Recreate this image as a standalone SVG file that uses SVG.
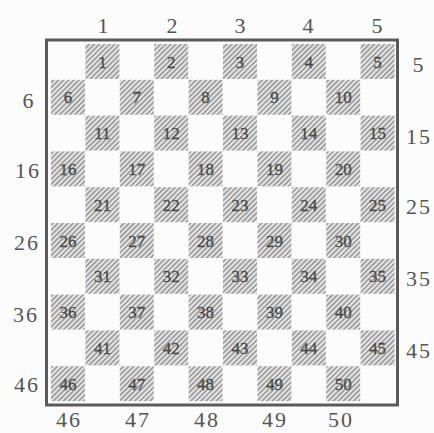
<svg xmlns="http://www.w3.org/2000/svg" width="434" height="433" viewBox="0 0 434 433">
<defs>
<pattern id="hatch" patternUnits="userSpaceOnUse" width="3.6" height="3.6" patternTransform="rotate(45)">
<rect width="3.6" height="3.6" fill="#e6e6e6"/>
<line x1="0.8" y1="0" x2="0.8" y2="3.6" stroke="#8c8c8c" stroke-width="1.4"/>
</pattern>
</defs>
<style>
.d{fill:url(#hatch);}
.n{font-family:"Liberation Serif",serif;font-size:17px;fill:#4a4a4a;stroke:#4a4a4a;stroke-width:0.3;text-anchor:middle;}
.l{font-family:"Liberation Serif",serif;font-size:22px;fill:#555;text-anchor:middle;letter-spacing:2px;}
.frame{fill:none;stroke:#5a5a5a;stroke-width:3;}
</style>
<rect width="434" height="433" fill="#fcfcfc"/>
<rect class="frame" x="46.5" y="40" width="351" height="365"/>
<g id="squares">
<g id="sq1"><rect class="d" x="85.4" y="44" width="34" height="35"/><text class="n" x="102.4" y="67.5">1</text></g>
<g id="sq2"><rect class="d" x="154.2" y="44" width="34" height="35"/><text class="n" x="171.2" y="67.5">2</text></g>
<g id="sq3"><rect class="d" x="223" y="44" width="34" height="35"/><text class="n" x="240" y="67.5">3</text></g>
<g id="sq4"><rect class="d" x="291.8" y="44" width="34" height="35"/><text class="n" x="308.8" y="67.5">4</text></g>
<g id="sq5"><rect class="d" x="360.6" y="44" width="34" height="35"/><text class="n" x="377.6" y="67.5">5</text></g>
<g id="sq6"><rect class="d" x="51" y="79.8" width="34" height="35"/><text class="n" x="68" y="103.3">6</text></g>
<g id="sq7"><rect class="d" x="119.8" y="79.8" width="34" height="35"/><text class="n" x="136.8" y="103.3">7</text></g>
<g id="sq8"><rect class="d" x="188.6" y="79.8" width="34" height="35"/><text class="n" x="205.6" y="103.3">8</text></g>
<g id="sq9"><rect class="d" x="257.4" y="79.8" width="34" height="35"/><text class="n" x="274.4" y="103.3">9</text></g>
<g id="sq10"><rect class="d" x="326.2" y="79.8" width="34" height="35"/><text class="n" x="343.2" y="103.3">10</text></g>
<g id="sq11"><rect class="d" x="85.4" y="115.6" width="34" height="35"/><text class="n" x="102.4" y="139.1">11</text></g>
<g id="sq12"><rect class="d" x="154.2" y="115.6" width="34" height="35"/><text class="n" x="171.2" y="139.1">12</text></g>
<g id="sq13"><rect class="d" x="223" y="115.6" width="34" height="35"/><text class="n" x="240" y="139.1">13</text></g>
<g id="sq14"><rect class="d" x="291.8" y="115.6" width="34" height="35"/><text class="n" x="308.8" y="139.1">14</text></g>
<g id="sq15"><rect class="d" x="360.6" y="115.6" width="34" height="35"/><text class="n" x="377.6" y="139.1">15</text></g>
<g id="sq16"><rect class="d" x="51" y="151.4" width="34" height="35"/><text class="n" x="68" y="174.9">16</text></g>
<g id="sq17"><rect class="d" x="119.8" y="151.4" width="34" height="35"/><text class="n" x="136.8" y="174.9">17</text></g>
<g id="sq18"><rect class="d" x="188.6" y="151.4" width="34" height="35"/><text class="n" x="205.6" y="174.9">18</text></g>
<g id="sq19"><rect class="d" x="257.4" y="151.4" width="34" height="35"/><text class="n" x="274.4" y="174.9">19</text></g>
<g id="sq20"><rect class="d" x="326.2" y="151.4" width="34" height="35"/><text class="n" x="343.2" y="174.9">20</text></g>
<g id="sq21"><rect class="d" x="85.4" y="187.2" width="34" height="35"/><text class="n" x="102.4" y="210.7">21</text></g>
<g id="sq22"><rect class="d" x="154.2" y="187.2" width="34" height="35"/><text class="n" x="171.2" y="210.7">22</text></g>
<g id="sq23"><rect class="d" x="223" y="187.2" width="34" height="35"/><text class="n" x="240" y="210.7">23</text></g>
<g id="sq24"><rect class="d" x="291.8" y="187.2" width="34" height="35"/><text class="n" x="308.8" y="210.7">24</text></g>
<g id="sq25"><rect class="d" x="360.6" y="187.2" width="34" height="35"/><text class="n" x="377.6" y="210.7">25</text></g>
<g id="sq26"><rect class="d" x="51" y="223" width="34" height="35"/><text class="n" x="68" y="246.5">26</text></g>
<g id="sq27"><rect class="d" x="119.8" y="223" width="34" height="35"/><text class="n" x="136.8" y="246.5">27</text></g>
<g id="sq28"><rect class="d" x="188.6" y="223" width="34" height="35"/><text class="n" x="205.6" y="246.5">28</text></g>
<g id="sq29"><rect class="d" x="257.4" y="223" width="34" height="35"/><text class="n" x="274.4" y="246.5">29</text></g>
<g id="sq30"><rect class="d" x="326.2" y="223" width="34" height="35"/><text class="n" x="343.2" y="246.5">30</text></g>
<g id="sq31"><rect class="d" x="85.4" y="258.8" width="34" height="35"/><text class="n" x="102.4" y="282.3">31</text></g>
<g id="sq32"><rect class="d" x="154.2" y="258.8" width="34" height="35"/><text class="n" x="171.2" y="282.3">32</text></g>
<g id="sq33"><rect class="d" x="223" y="258.8" width="34" height="35"/><text class="n" x="240" y="282.3">33</text></g>
<g id="sq34"><rect class="d" x="291.8" y="258.8" width="34" height="35"/><text class="n" x="308.8" y="282.3">34</text></g>
<g id="sq35"><rect class="d" x="360.6" y="258.8" width="34" height="35"/><text class="n" x="377.6" y="282.3">35</text></g>
<g id="sq36"><rect class="d" x="51" y="294.6" width="34" height="35"/><text class="n" x="68" y="318.1">36</text></g>
<g id="sq37"><rect class="d" x="119.8" y="294.6" width="34" height="35"/><text class="n" x="136.8" y="318.1">37</text></g>
<g id="sq38"><rect class="d" x="188.6" y="294.6" width="34" height="35"/><text class="n" x="205.6" y="318.1">38</text></g>
<g id="sq39"><rect class="d" x="257.4" y="294.6" width="34" height="35"/><text class="n" x="274.4" y="318.1">39</text></g>
<g id="sq40"><rect class="d" x="326.2" y="294.6" width="34" height="35"/><text class="n" x="343.2" y="318.1">40</text></g>
<g id="sq41"><rect class="d" x="85.4" y="330.4" width="34" height="35"/><text class="n" x="102.4" y="353.9">41</text></g>
<g id="sq42"><rect class="d" x="154.2" y="330.4" width="34" height="35"/><text class="n" x="171.2" y="353.9">42</text></g>
<g id="sq43"><rect class="d" x="223" y="330.4" width="34" height="35"/><text class="n" x="240" y="353.9">43</text></g>
<g id="sq44"><rect class="d" x="291.8" y="330.4" width="34" height="35"/><text class="n" x="308.8" y="353.9">44</text></g>
<g id="sq45"><rect class="d" x="360.6" y="330.4" width="34" height="35"/><text class="n" x="377.6" y="353.9">45</text></g>
<g id="sq46"><rect class="d" x="51" y="366.2" width="34" height="35"/><text class="n" x="68" y="389.7">46</text></g>
<g id="sq47"><rect class="d" x="119.8" y="366.2" width="34" height="35"/><text class="n" x="136.8" y="389.7">47</text></g>
<g id="sq48"><rect class="d" x="188.6" y="366.2" width="34" height="35"/><text class="n" x="205.6" y="389.7">48</text></g>
<g id="sq49"><rect class="d" x="257.4" y="366.2" width="34" height="35"/><text class="n" x="274.4" y="389.7">49</text></g>
<g id="sq50"><rect class="d" x="326.2" y="366.2" width="34" height="35"/><text class="n" x="343.2" y="389.7">50</text></g>
</g>
<g id="labels">
<text class="l" x="104" y="33">1</text>
<text class="l" x="173" y="33">2</text>
<text class="l" x="241" y="33">3</text>
<text class="l" x="309" y="33">4</text>
<text class="l" x="378" y="33">5</text>
<text class="l" x="29" y="108">6</text>
<text class="l" x="28" y="178">16</text>
<text class="l" x="27" y="250">26</text>
<text class="l" x="26" y="322">36</text>
<text class="l" x="27" y="392">46</text>
<text class="l" x="419" y="72">5</text>
<text class="l" x="419" y="144">15</text>
<text class="l" x="419" y="214">25</text>
<text class="l" x="419" y="286">35</text>
<text class="l" x="419" y="358">45</text>
<text class="l" x="69" y="427">46</text>
<text class="l" x="138" y="427">47</text>
<text class="l" x="207" y="427">48</text>
<text class="l" x="275" y="427">49</text>
<text class="l" x="341" y="427">50</text>
</g>
</svg>
